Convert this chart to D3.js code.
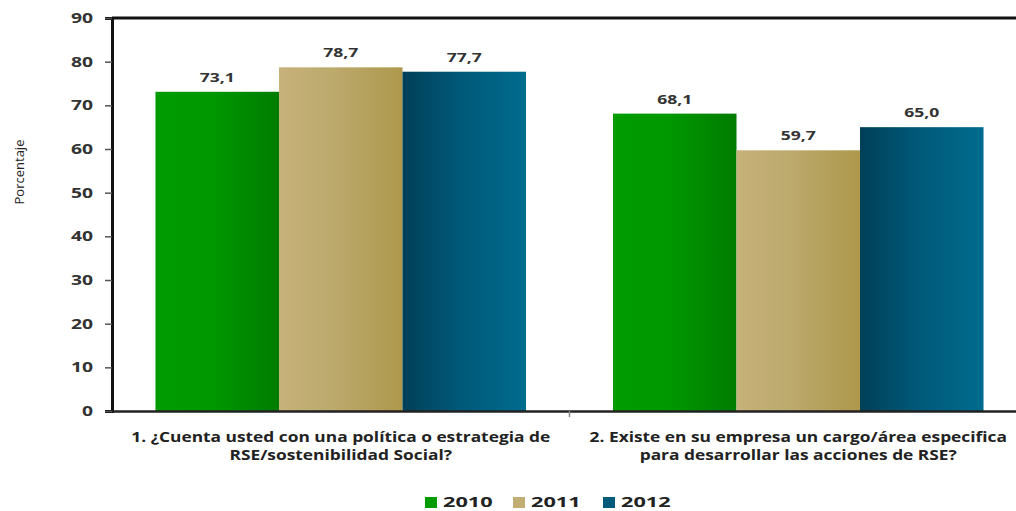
<html>
<head>
<meta charset="utf-8">
<script src="https://d3js.org/d3.v7.min.js"></script>
<style>
  body { margin: 0; background: #fff; }
  text { font-family: "Open Sans", "DejaVu Sans", sans-serif; }
</style>
</head>
<body>
<script>
// data
var categories = [
  ["1. ¿Cuenta usted con una política o estrategia de", "RSE/sostenibilidad Social?"],
  ["2. Existe en su empresa un cargo/área especifica", "para desarrollar las acciones de RSE?"]
];
var years = ["2010", "2011", "2012"];
var v2010 = [73.1, 68.1];
var v2011 = [78.7, 59.7];
var v2012 = [77.7, 65.0];
var yTicks = [0, 10, 20, 30, 40, 50, 60, 70, 80, 90];

var series = [v2010, v2011, v2012];
var w = 1016, h = 511;
var mLeft = 112, mTop = 18, mBottom = 411, mRight = 1027;

var svg = d3.select("body").append("svg").attr("width", w).attr("height", h);

// gradients (horizontal, like the original)
var grads = [
  ["g2010", "#009c00", "#009800", "#007c00"],
  ["g2011", "#c6b27a", "#bca96c", "#ad984c"],
  ["g2012", "#003f58", "#005878", "#006c8e"]
];
var defs = svg.append("defs");
grads.forEach(function(g){
  var lg = defs.append("linearGradient").attr("id", g[0])
    .attr("x1", "0%").attr("x2", "100%").attr("y1", "0%").attr("y2", "0%");
  lg.append("stop").attr("offset", "0%").attr("stop-color", g[1]);
  lg.append("stop").attr("offset", "45%").attr("stop-color", g[2]);
  lg.append("stop").attr("offset", "100%").attr("stop-color", g[3]);
});
var legendColors = ["#009c00", "#c2ad72", "#005a7a"];

// the original picture is stretched sideways, so text is too
function wideText(sel, x, yy, sx){
  return sel.append("text").attr("transform", "translate(" + x + "," + yy + ") scale(" + sx + ",1)");
}

var x0 = d3.scaleBand().domain(d3.range(categories.length)).range([mLeft, mRight]);
var x1 = d3.scaleBand().domain(d3.range(years.length)).range([0, x0.bandwidth()]).paddingOuter(0.352);
var y = d3.scaleLinear().domain([0, 90]).range([mBottom, mTop]);

// bars
categories.forEach(function(c, ci){
  var g = svg.append("g").attr("transform", "translate(" + x0(ci) + ",0)");
  var vals = series.map(function(s){ return s[ci]; });
  g.selectAll("rect").data(vals)
    .enter().append("rect")
    .attr("x", function(d, i){ return x1(i); })
    .attr("width", x1.bandwidth())
    .attr("y", function(d){ return y(d); })
    .attr("height", function(d){ return mBottom - y(d); })
    .attr("fill", function(d, i){ return "url(#" + grads[i][0] + ")"; });
  vals.forEach(function(d, i){
    wideText(g, x1(i) + x1.bandwidth() / 2, y(d) - 10, 1.35)
      .attr("text-anchor", "middle")
      .attr("font-size", 13).attr("font-weight", "bold").attr("fill", "#333")
      .text(d.toFixed(1).replace(".", ","));
  });
});

// top border
svg.append("line").attr("x1", mLeft).attr("x2", w).attr("y1", mTop).attr("y2", mTop)
  .attr("stroke", "#111").attr("stroke-width", 3);

// y axis
var yAxis = svg.append("g").attr("transform", "translate(" + mLeft + ",0)")
  .call(d3.axisLeft(y).tickValues(yTicks).tickSize(7).tickFormat(""));
yAxis.select(".domain").attr("stroke", "#111").attr("stroke-width", 3);
yAxis.selectAll(".tick line").attr("stroke", "#555").attr("stroke-width", 1.5);
yTicks.forEach(function(t){
  wideText(svg, 93, y(t) + 5, 1.38)
    .attr("text-anchor", "end")
    .attr("font-size", 14).attr("font-weight", "bold").attr("fill", "#333")
    .text(t);
});

// x axis
var xAxis = svg.append("g").attr("transform", "translate(0," + mBottom + ")")
  .call(d3.axisBottom(x0).tickValues([]).tickSizeOuter(0));
xAxis.select(".domain").attr("stroke", "#222").attr("stroke-width", 2.5);
svg.append("line").attr("x1", x0(1)).attr("x2", x0(1)).attr("y1", mBottom).attr("y2", mBottom + 6)
  .attr("stroke", "#888").attr("stroke-width", 1.5);

// category labels
categories.forEach(function(c, ci){
  c.forEach(function(line, li){
    wideText(svg, x0(ci) + x0.bandwidth() / 2, 442 + li * 18, 1.24)
      .attr("text-anchor", "middle")
      .attr("font-size", 14).attr("font-weight", "bold").attr("fill", "#222")
      .text(line);
  });
});

// y title
svg.append("text").attr("transform", "translate(24,172) rotate(-90)")
  .attr("text-anchor", "middle").attr("font-size", 13).attr("fill", "#222")
  .text("Porcentaje");

// legend
var legX = [425, 513, 603];
years.forEach(function(yr, i){
  svg.append("rect").attr("x", legX[i]).attr("y", 497).attr("width", 12).attr("height", 11)
    .attr("fill", legendColors[i]);
  wideText(svg, legX[i] + 18, 507, 1.45)
    .attr("font-size", 15).attr("font-weight", "bold").attr("fill", "#222").text(yr);
});
</script>
</body>
</html>
